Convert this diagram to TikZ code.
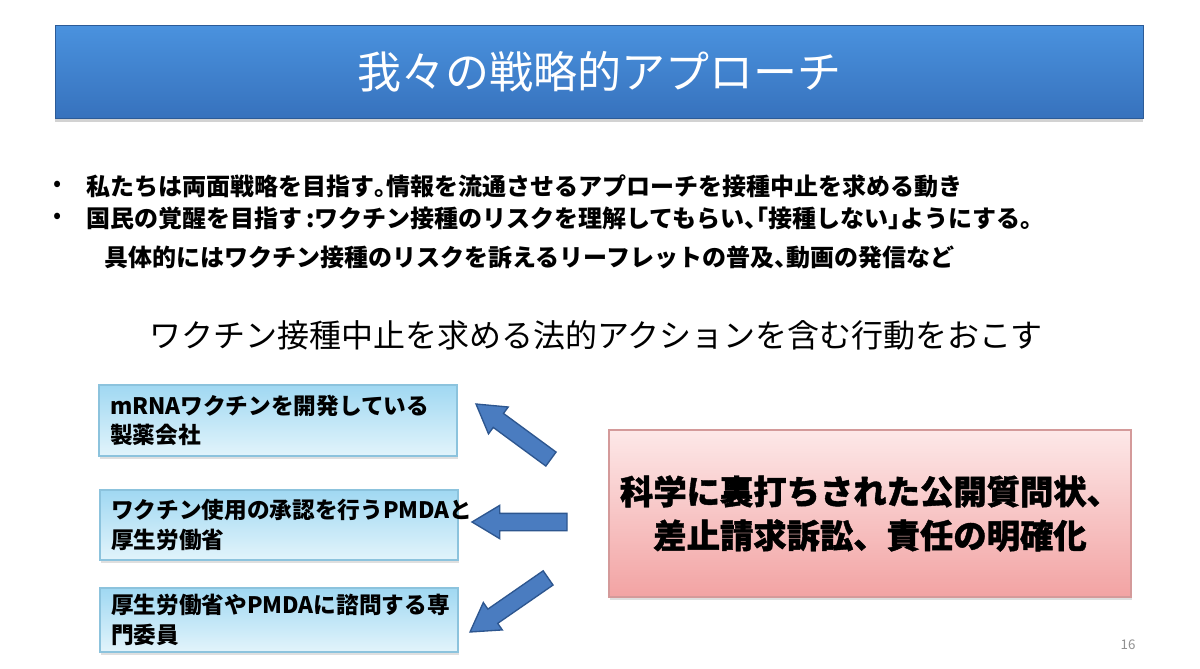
\documentclass[tikz,border=0pt]{standalone}
\usepackage{fontspec}
\setmainfont{Noto Sans CJK JP}
\usetikzlibrary{shapes.arrows,shadows,calc}
\definecolor{titletop}{HTML}{4A92DE}
\definecolor{titlebot}{HTML}{3772BD}
\definecolor{boxtop}{HTML}{A0D8F2}
\definecolor{boxbot}{HTML}{E2F4FB}
\definecolor{boxborder}{HTML}{8CC3DD}
\definecolor{pinktop}{HTML}{FDE8E8}
\definecolor{pinkbot}{HTML}{F2A3A3}
\definecolor{pinkborder}{HTML}{D49A9A}
\definecolor{arrowfill}{HTML}{4A7CC0}
\definecolor{arrowdraw}{HTML}{2D568F}
\definecolor{pagegray}{HTML}{909090}
\newcommand{\hpl}[1]{\makebox[0.5em][l]{#1}}
\newcommand{\hpr}[1]{\makebox[0.5em][r]{#1}}
\tikzset{
  titlebar/.style={rectangle, top color=titletop, bottom color=titlebot, draw=titlebot!80!black, line width=0.4pt,
    drop shadow={shadow xshift=0pt, shadow yshift=-3pt, opacity=0.35}, text=white, font=\fontsize{33}{38}\selectfont},
  bluebox/.style={rectangle, top color=boxtop, bottom color=boxbot, draw=boxborder, line width=0.8pt,
    drop shadow={shadow xshift=1pt, shadow yshift=-2pt, opacity=0.25}, minimum width=268.5pt,
    text width=252pt, align=left, inner xsep=8pt, font=\bfseries\fontsize{17}{22}\selectfont},
  pinkbox/.style={rectangle, top color=pinktop, bottom color=pinkbot, draw=pinkborder, line width=0.8pt,
    drop shadow={shadow xshift=1pt, shadow yshift=-2pt, opacity=0.25}, minimum width=391.5pt, minimum height=125.25pt,
    align=center, font=\bfseries\fontsize{25}{33}\selectfont\addfontfeature{FakeBold=1.2}},
  bullettext/.style={anchor=west, inner sep=0pt, font=\bfseries\fontsize{18}{22}\selectfont},
  bulletdot/.style={inner sep=0pt, font=\fontsize{18}{20}\selectfont},
  heading/.style={inner sep=0pt, font=\fontsize{24}{28}\selectfont},
  barrow/.style={single arrow, fill=arrowfill, draw=arrowdraw, line width=1pt, minimum width=24pt,
    single arrow head extend=6pt, single arrow tip angle=62, inner xsep=0pt, inner ysep=6pt, outer sep=0pt, anchor=tip},
  pagenum/.style={text=pagegray, font=\fontsize{10}{12}\selectfont}
}
\begin{document}
\begin{tikzpicture}[x=0.75pt,y=-0.75pt]
\useasboundingbox (0,0) rectangle (1200,668);
\fill[white] (0,0) rectangle (1200,668);

\node[titlebar, minimum width=816pt, minimum height=69.75pt] (title) at (599,71.5) {我々の戦略的アプローチ};

\node[bulletdot] (b1) at (58,186) {•};
\node[bullettext] (t1) at (86,186) {私たちは両面戦略を目指す\hpl{。}情報を流通させるアプローチを接種中止を求める動き};
\node[bulletdot] (b2) at (58,218) {•};
\node[bullettext] (t2) at (86,218) {国民の覚醒を目指す\,:ワクチン接種のリスクを理解してもらい\hpl{、}\hpr{「}接種しない\hpl{」}ようにする\hpl{。}};
\node[bullettext] (t3) at (104,257) {具体的にはワクチン接種のリスクを訴えるリーフレットの普及\hpl{、}動画の発信など};

\node[heading] (head) at (596,335) {ワクチン接種中止を求める法的アクションを含む行動をおこす};

\node[bluebox, minimum height=53.25pt] (box1) at (278,420.5) {mRNAワクチンを開発している\\製薬会社};
\node[bluebox, minimum height=52.5pt] (box2) at (279,525) {ワクチン使用の承認を行うPMDAと\\厚生労働省};
\node[bluebox, minimum height=48pt] (box3) at (279,620) {厚生労働省やPMDAに諮問する専\\門委員};

\node[pinkbox] (action) at (870,513.5) {科学に裏打ちされた公開質問状、\\差止請求訴訟、責任の明確化};

\coordinate (a1t) at (476,404);
\coordinate (a2t) at (472,522);
\coordinate (a3t) at (470,632);
\node[barrow, rotate=143.7, minimum height=69.75pt] (arr1) at (a1t) {};
\node[barrow, rotate=180, minimum height=71.25pt] (arr2) at (a2t) {};
\node[barrow, rotate=214.7, minimum height=71.25pt] (arr3) at (a3t) {};

\node[pagenum] (pg) at (1128,645) {16};
\end{tikzpicture}
\end{document}
